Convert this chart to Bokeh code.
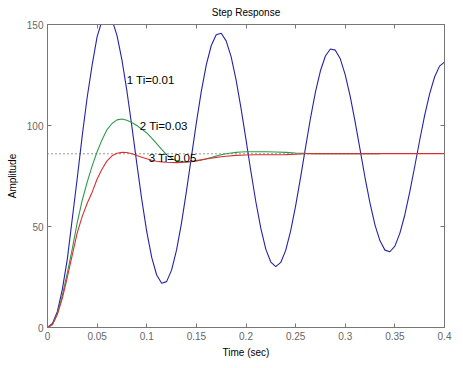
from bokeh.plotting import figure
from bokeh.models import LinearAxis, FixedTicker, Label, Range1d, CustomLabelingPolicy
from bokeh.embed import file_html
from bokeh.resources import INLINE

# ---------------- data ----------------
t_blue = [0.000, 0.005, 0.010, 0.015, 0.020, 0.025, 0.030, 0.035, 0.040, 0.045,
          0.050, 0.055, 0.060, 0.065, 0.070, 0.075, 0.080, 0.085, 0.090, 0.095,
          0.100, 0.105, 0.110, 0.115, 0.120, 0.125, 0.130, 0.135, 0.140, 0.145,
          0.150, 0.155, 0.160, 0.165, 0.170, 0.175, 0.180, 0.185, 0.190, 0.195,
          0.200, 0.205, 0.210, 0.215, 0.220, 0.225, 0.230, 0.235, 0.240, 0.245,
          0.250, 0.255, 0.260, 0.265, 0.270, 0.275, 0.280, 0.285, 0.290, 0.295,
          0.300, 0.305, 0.310, 0.315, 0.320, 0.325, 0.330, 0.335, 0.340, 0.345,
          0.350, 0.355, 0.360, 0.365, 0.370, 0.375, 0.380, 0.385, 0.390, 0.395,
          0.400]
y_blue = [0.0, 2.0, 8.0, 19.0, 34.0, 54.0, 74.0, 95.0, 114.0, 130.0,
          144.0, 152.0, 155.0, 152.3, 144.6, 132.5, 117.1, 99.6, 81.1, 63.3,
          47.5, 34.7, 26.0, 21.9, 22.7, 28.4, 38.3, 51.7, 67.5, 84.5,
          101.4, 117.0, 130.0, 139.6, 144.9, 145.7, 141.9, 134.1, 122.6, 108.5,
          93.0, 77.0, 62.0, 48.9, 38.7, 32.4, 30.1, 32.2, 38.2, 47.8,
          60.2, 74.3, 89.2, 103.7, 116.6, 127.1, 134.4, 137.9, 137.3, 133.0,
          125.1, 114.4, 101.7, 87.9, 74.0, 61.4, 50.7, 42.9, 38.3, 37.5,
          40.3, 46.6, 55.7, 67.1, 79.7, 92.7, 105.0, 115.7, 124.0, 129.4,
          131.4]

t_green = [0.000, 0.005, 0.010, 0.015, 0.020, 0.025, 0.030, 0.035, 0.040, 0.045,
           0.050, 0.055, 0.060, 0.065, 0.070, 0.075, 0.080, 0.085, 0.090, 0.095,
           0.100, 0.105, 0.110, 0.115, 0.120, 0.125, 0.130, 0.135, 0.140, 0.145,
           0.150, 0.155, 0.160, 0.165, 0.170, 0.175, 0.180, 0.185, 0.190, 0.195,
           0.200, 0.210, 0.220, 0.230, 0.240, 0.250, 0.260, 0.270, 0.280, 0.300,
           0.335]
y_green = [0.0, 1.5, 7.0, 16.0, 27.0, 39.0, 52.0, 63.0, 72.0, 80.0,
           87.0, 93.0, 98.0, 101.0, 102.8, 103.2, 102.6, 101.5, 100.0, 98.2,
           96.3, 93.8, 91.0, 88.2, 85.6, 83.7, 82.6, 82.1, 82.0, 82.1,
           82.4, 82.9, 83.5, 84.2, 84.9, 85.5, 86.0, 86.4, 86.7, 86.9,
           87.0, 87.0, 87.0, 86.9, 86.7, 86.4, 86.2, 86.1, 86.0, 86.0,
           86.0]

t_red = [0.000, 0.005, 0.010, 0.015, 0.020, 0.025, 0.030, 0.035, 0.040, 0.045,
         0.050, 0.055, 0.060, 0.065, 0.070, 0.075, 0.080, 0.085, 0.090, 0.095,
         0.100, 0.105, 0.110, 0.115, 0.120, 0.125, 0.130, 0.135, 0.140, 0.145,
         0.150, 0.155, 0.160, 0.165, 0.170, 0.175, 0.180, 0.190, 0.200, 0.210,
         0.220, 0.230, 0.240, 0.250, 0.260, 0.270, 0.280, 0.300, 0.400]
y_red = [0.0, 1.5, 6.5, 14.5, 25.0, 36.0, 47.0, 55.0, 61.5, 67.0,
         73.5, 78.5, 82.5, 85.0, 86.3, 86.7, 86.6, 86.0, 85.2, 84.3,
         83.5, 82.8, 82.3, 82.0, 81.8, 81.7, 81.6, 81.7, 81.9, 82.2,
         82.6, 83.0, 83.4, 83.8, 84.2, 84.5, 84.8, 85.2, 85.4, 85.5,
         85.5, 85.5, 85.6, 85.8, 86.0, 86.1, 86.1, 86.1, 86.1]

t_final = [0.0, 0.335]
y_final = [86.0, 86.0]

x_ticks = [0, 0.05, 0.1, 0.15, 0.2, 0.25, 0.3, 0.35, 0.4]
x_tick_labels = ["0", "0.05", "0.1", "0.15", "0.2", "0.25", "0.3", "0.35", "0.4"]
y_ticks = [0, 50, 100, 150]
y_tick_labels = ["0", "50", "100", "150"]

title_text = "Step Response"
curve_labels = ["1 Ti=0.01", "2 Ti=0.03", "3 Ti=0.05"]

# ---------------- figure ----------------
p = figure(width=463, height=368, output_backend="svg", toolbar_location=None,
           x_range=Range1d(0, 0.4), y_range=Range1d(0, 150),
           min_border_left=47, min_border_right=19, min_border_top=24,
           min_border_bottom=41, title=title_text)
p.title.text_font = "Liberation Sans"
p.title.text_font_size = "10px"
p.title.text_font_style = "normal"
p.title.text_color = "black"
p.title.align = "center"
p.title.standoff = 6
p.grid.visible = False
p.outline_line_color = "#777777"
p.background_fill_color = "white"

axis_color = "#777777"
label_color = "#666666"

no_labels = CustomLabelingPolicy(code="""
for (const i of Array.from(indices)) { indices.unset(i) }
return indices
""")

def style_axis(ax, show_labels):
    ax.axis_line_color = axis_color
    ax.major_tick_line_color = axis_color
    ax.major_tick_in = 4
    ax.major_tick_out = 0
    ax.minor_tick_line_color = None
    ax.major_label_text_font = "Liberation Sans"
    ax.major_label_text_color = label_color
    if show_labels:
        ax.major_label_text_font_size = "10px"
    else:
        ax.major_label_policy = no_labels
        ax.major_label_text_font_size = "1px"
        ax.major_label_standoff = 0

xax = p.xaxis[0]
yax = p.yaxis[0]
xax.ticker = FixedTicker(ticks=x_ticks)
yax.ticker = FixedTicker(ticks=y_ticks)
xax.major_label_overrides = {k: v for k, v in zip(x_ticks, x_tick_labels)}
yax.major_label_overrides = {k: v for k, v in zip(y_ticks, y_tick_labels)}
style_axis(xax, True)
style_axis(yax, True)
xax.major_label_standoff = 4
yax.major_label_standoff = 4
xax.axis_label = "Time (sec)"
yax.axis_label = "Amplitude"
for ax in (xax, yax):
    ax.axis_label_text_font = "Liberation Sans"
    ax.axis_label_text_font_size = "10px"
    ax.axis_label_text_font_style = "normal"
    ax.axis_label_text_color = "black"
xax.axis_label_standoff = 4
yax.axis_label_standoff = 6

top = LinearAxis(ticker=FixedTicker(ticks=x_ticks))
right = LinearAxis(ticker=FixedTicker(ticks=y_ticks))
style_axis(top, False)
style_axis(right, False)
p.add_layout(top, "above")
p.add_layout(right, "right")

# ---------------- curves ----------------
p.line(t_blue, y_blue, line_color="#2323a8", line_width=1.1)
p.line(t_final, y_final, line_color="#333333", line_dash="1 3", line_width=1)
p.line(t_green, y_green, line_color="#2f9a4a", line_width=1.1)
p.line(t_red, y_red, line_color="#d83030", line_width=1.1)

label_pos = [(0.0798, 122.7), (0.093, 99.8), (0.102, 83.8)]
for txt, (lx, ly) in zip(curve_labels, label_pos):
    p.add_layout(Label(x=lx, y=ly, text=txt, text_font="Liberation Sans",
                       text_font_size="11.5px", text_color="black",
                       text_baseline="middle", text_align="left"))

open("out.html", "w").write(file_html(p, INLINE))
